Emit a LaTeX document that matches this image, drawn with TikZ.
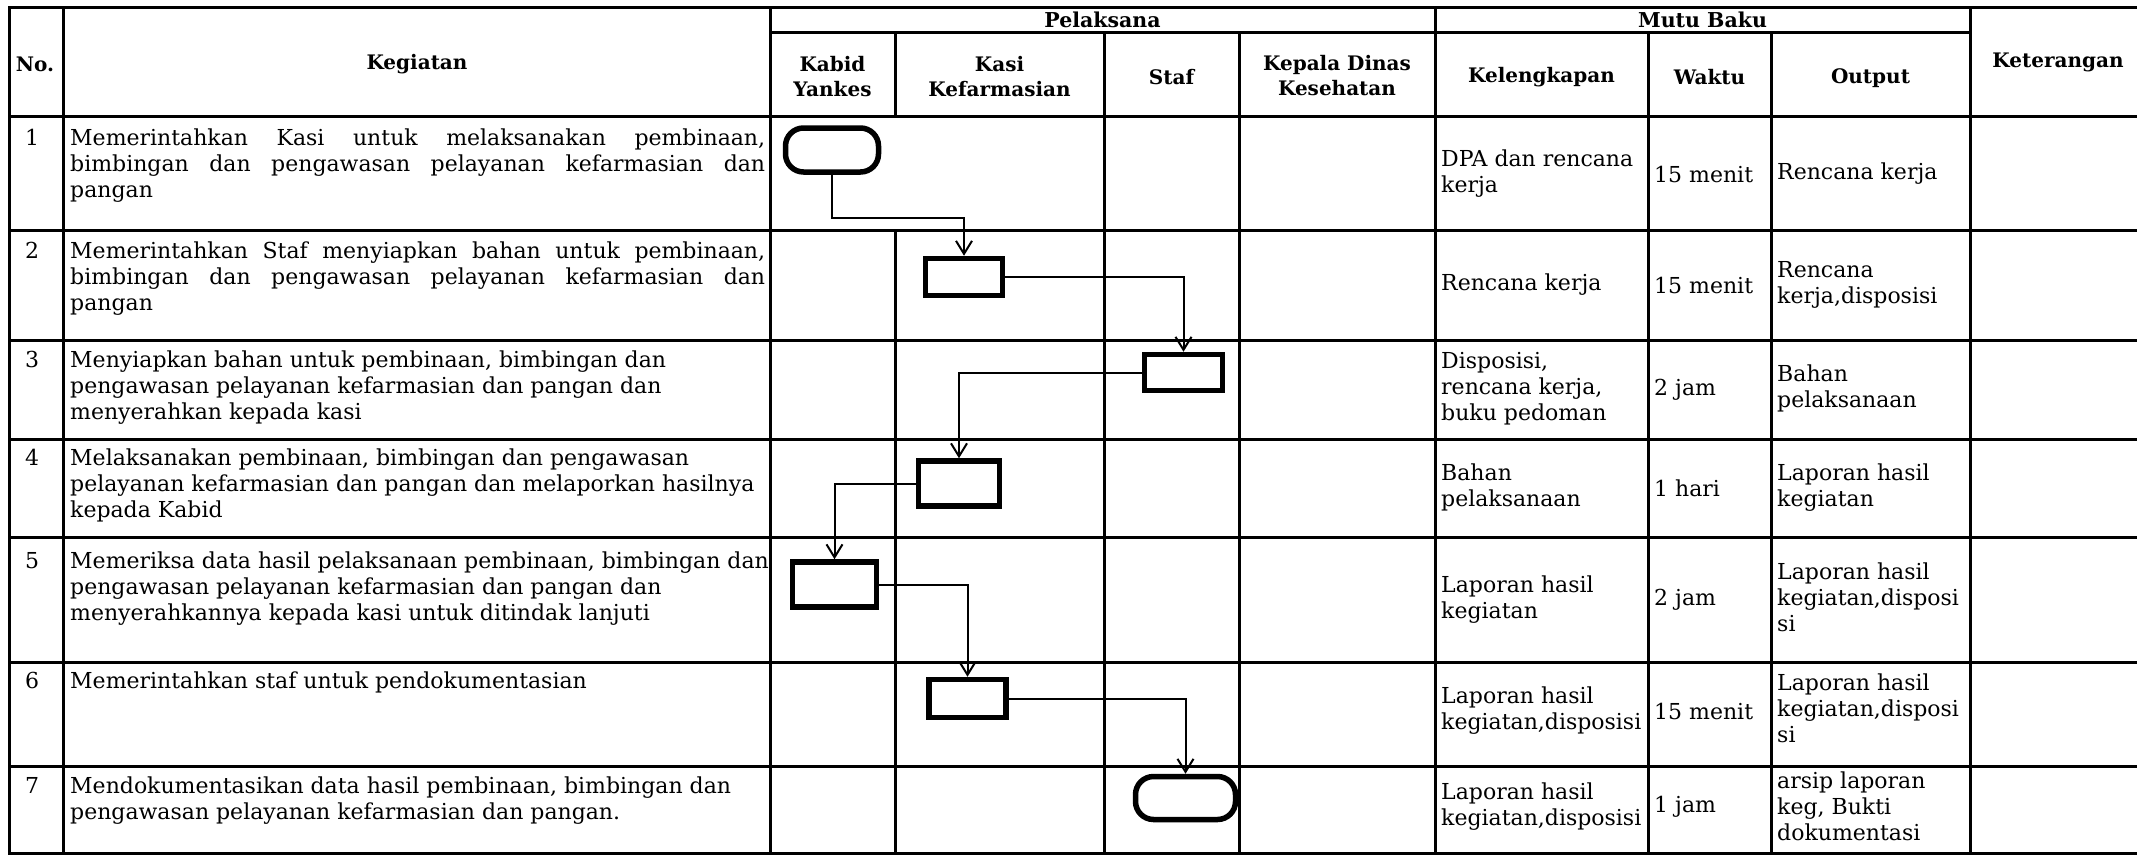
\documentclass[tikz,border=0pt]{standalone}
\usepackage{fontspec}
\setmainfont{DejaVu Serif}
\usetikzlibrary{arrows.meta}
\newcommand\bodyfont{\fontsize{22}{26}\selectfont}
\newcommand\headfont{\fontsize{20}{25}\selectfont\bfseries}
\newcommand\topfont{\fontsize{20.5}{22}\selectfont\bfseries}
\newcommand\tabL[1]{\begin{tabular}{@{}l@{}}#1\end{tabular}}
\newcommand\tabT[1]{\begin{tabular}[t]{@{}l@{}}#1\end{tabular}}
\newcommand\tabC[1]{\begin{tabular}{@{}c@{}}#1\end{tabular}}
\newcommand\jline[1]{\makebox[695pt][s]{#1}}
\begin{document}
\begin{tikzpicture}[x=1pt,y=-1pt,
  tline/.style={line width=3pt,line cap=rect},
  procbox/.style={draw,line width=5.5pt,inner sep=0pt,outer sep=2.75pt},
  termbox/.style={procbox,rounded corners=18pt},
  conn/.style={line width=2pt,-{Straight Barb[length=13pt,width=16pt,line width=2pt]}},
  body/.style={font=\bodyfont,inner sep=0pt},
  head/.style={font=\headfont,inner sep=0pt},
  tophead/.style={font=\topfont,inner sep=0pt}]
\useasboundingbox (0,0) rectangle (2137,855);
\clip (0,0) rectangle (2137,855);
\fill[white] (0,0) rectangle (2137,855);
% horizontal lines
\draw[tline] (9,7) -- (2150,7);
\draw[tline] (770,32) -- (1970,32);
\foreach \yy in {116,230,340,439,537,662,766,853}
  \draw[tline] (9,\yy) -- (2150,\yy);
% vertical lines
\foreach \xx in {9,63,770,1435,1970}
  \draw[tline] (\xx,7) -- (\xx,853);
\foreach \xx in {1104,1239,1648,1771}
  \draw[tline] (\xx,32) -- (\xx,853);
\draw[tline] (895,32) -- (895,116);
\draw[tline] (895,230) -- (895,853);
% headers
\node[head] (hNo) at (35,64) {No.};
\node[head] (hKeg) at (417,64) {Kegiatan};
\node[tophead] (hPel) at (1102.5,19.5) {Pelaksana};
\node[tophead] (hMutu) at (1702.5,19.5) {Mutu Baku};
\node[head] (hKabid) at (832.5,79) {\tabC{Kabid\\Yankes}};
\node[head] (hKasi) at (999.5,79) {\tabC{Kasi\\Kefarmasian}};
\node[head] (hStaf) at (1171.5,77) {Staf};
\node[head] (hKep) at (1337,78) {\tabC{Kepala Dinas\\Kesehatan}};
\node[head] (hKel) at (1541.5,77) {Kelengkapan};
\node[head] (hWak) at (1709.5,77) {Waktu};
\node[head] (hOut) at (1870.5,78) {Output};
\node[head] (hKet) at (2058,62) {Keterangan};
% numbers
\node[body,anchor=base] (n1) at (32,145) {1};
\node[body,anchor=base] (n2) at (32,258) {2};
\node[body,anchor=base] (n3) at (32,367) {3};
\node[body,anchor=base] (n4) at (32,465) {4};
\node[body,anchor=base] (n5) at (32,568) {5};
\node[body,anchor=base] (n6) at (32,688) {6};
\node[body,anchor=base] (n7) at (32,793) {7};
% kegiatan
\node[body,anchor=base west] (k1) at (70,145) {\tabT{\jline{Memerintahkan Kasi untuk melaksanakan pembinaan,}\\\jline{bimbingan dan pengawasan pelayanan kefarmasian dan}\\pangan}};
\node[body,anchor=base west] (k2) at (70,258) {\tabT{\jline{Memerintahkan Staf menyiapkan bahan untuk pembinaan,}\\\jline{bimbingan dan pengawasan pelayanan kefarmasian dan}\\pangan}};
\node[body,anchor=base west] (k3) at (70,367) {\tabT{Menyiapkan bahan untuk pembinaan, bimbingan dan\\pengawasan pelayanan kefarmasian dan pangan dan\\menyerahkan kepada kasi}};
\node[body,anchor=base west] (k4) at (70,465) {\tabT{Melaksanakan pembinaan, bimbingan dan pengawasan\\pelayanan kefarmasian dan pangan dan melaporkan hasilnya\\kepada Kabid}};
\node[body,anchor=base west] (k5) at (70,568) {\tabT{Memeriksa data hasil pelaksanaan pembinaan, bimbingan dan\\pengawasan pelayanan kefarmasian dan pangan dan\\menyerahkannya kepada kasi untuk ditindak lanjuti}};
\node[body,anchor=base west] (k6) at (70,688) {\tabT{Memerintahkan staf untuk pendokumentasian}};
\node[body,anchor=base west] (k7) at (70,793) {\tabT{Mendokumentasikan data hasil pembinaan, bimbingan dan\\pengawasan pelayanan kefarmasian dan pangan.}};
% kelengkapan
\node[body,anchor=west] (l1) at (1441,174) {\tabL{DPA dan rencana\\kerja}};
\node[body,anchor=west] (l2) at (1441,285) {\tabL{Rencana kerja}};
\node[body,anchor=west] (l3) at (1441,389.5) {\tabL{Disposisi,\\rencana kerja,\\buku pedoman}};
\node[body,anchor=west] (l4) at (1441,488) {\tabL{Bahan\\pelaksanaan}};
\node[body,anchor=west] (l5) at (1441,600) {\tabL{Laporan hasil\\kegiatan}};
\node[body,anchor=west] (l6) at (1441,711) {\tabL{Laporan hasil\\kegiatan,disposisi}};
\node[body,anchor=west] (l7) at (1441,807) {\tabL{Laporan hasil\\kegiatan,disposisi}};
% waktu
\node[body,anchor=west] (w1) at (1654,174) {15 menit};
\node[body,anchor=west] (w2) at (1654,285) {15 menit};
\node[body,anchor=west] (w3) at (1654,389.5) {2 jam};
\node[body,anchor=west] (w4) at (1654,488) {1 hari};
\node[body,anchor=west] (w5) at (1654,600) {2 jam};
\node[body,anchor=west] (w6) at (1654,711) {15 menit};
\node[body,anchor=west] (w7) at (1654,807) {1 jam};
% output
\node[body,anchor=west] (o1) at (1777,174) {\tabL{Rencana kerja}};
\node[body,anchor=west] (o2) at (1777,285) {\tabL{Rencana\\kerja,disposisi}};
\node[body,anchor=west] (o3) at (1777,389.5) {\tabL{Bahan\\pelaksanaan}};
\node[body,anchor=west] (o4) at (1777,488) {\tabL{Laporan hasil\\kegiatan}};
\node[body,anchor=west] (o5) at (1777,600) {\tabL{Laporan hasil\\kegiatan,disposi\\si}};
\node[body,anchor=west] (o6) at (1777,711) {\tabL{Laporan hasil\\kegiatan,disposi\\si}};
\node[body,anchor=west] (o7) at (1777,809.5) {\tabL{arsip laporan\\keg, Bukti\\dokumentasi}};
% flow shapes
\node[termbox,minimum width=93pt,minimum height=44pt] (t1) at (832,150) {};
\node[procbox,minimum width=77pt,minimum height=37pt] (b2) at (964,277) {};
\node[procbox,minimum width=78pt,minimum height=36pt] (b3) at (1183.5,372.5) {};
\node[procbox,minimum width=81pt,minimum height=45pt] (b4) at (959,483.5) {};
\node[procbox,minimum width=84pt,minimum height=45pt] (b5) at (834.5,584.5) {};
\node[procbox,minimum width=77pt,minimum height=38pt] (b6) at (967.5,698.5) {};
\node[termbox,minimum width=100pt,minimum height=43pt] (t7) at (1185.5,798) {};
% connectors
\coordinate (c1) at (832,218);
\draw[conn] (t1.south) -- (c1) -| (b2.north);
\draw[conn] (b2.east) -| (b3.north);
\draw[conn] (b3.west) -| (b4.north);
\draw[conn] (b4.west) -| (b5.north);
\draw[conn] (b5.east) -| (b6.north);
\draw[conn] (b6.east) -| (t7.north);
\end{tikzpicture}
\end{document}
